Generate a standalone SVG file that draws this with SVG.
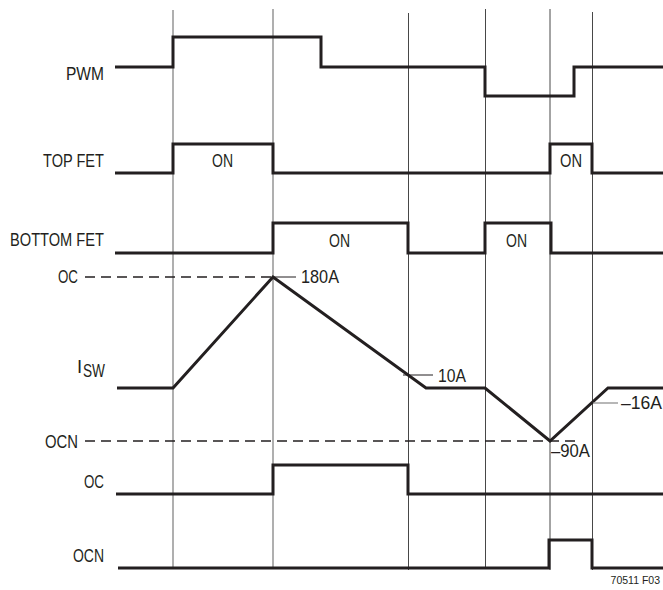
<svg xmlns="http://www.w3.org/2000/svg" width="663" height="590" viewBox="0 0 663 590">
<style>
.grid{stroke:#7a7a7a;stroke-width:1.2;fill:none}
.grid2{stroke:#333;stroke-width:0.9;fill:none}
.sig{stroke:#231f20;stroke-width:3;fill:none;stroke-linejoin:miter;stroke-linecap:butt}
.dash{stroke:#231f20;stroke-width:1.5;fill:none;stroke-dasharray:10 6}
.tick{stroke:#231f20;stroke-width:1;fill:none}
.tickg{stroke:#888;stroke-width:1.2;fill:none}
text{font-family:"Liberation Sans Narrow","Liberation Sans",Arial,sans-serif;font-size:18.5px;fill:#231f20}
.lbl{text-anchor:end}
.small{font-size:10.5px;text-anchor:end}
</style>
<rect width="663" height="590" fill="#fff"/>
<g id="gridlines">
<line class="grid" x1="173" y1="10" x2="173" y2="568"/>
<line class="grid" x1="273" y1="9" x2="273" y2="568"/>
<line class="grid2" x1="408.5" y1="13" x2="408.5" y2="570"/>
<line class="grid2" x1="485.5" y1="9" x2="485.5" y2="568"/>
<line class="grid2" x1="550" y1="9" x2="550" y2="570"/>
<line class="grid2" x1="592.5" y1="12" x2="592.5" y2="570"/>
</g>
<g id="pwm">
<text class="lbl" x="104" y="80" textLength="38" lengthAdjust="spacingAndGlyphs">PWM</text>
<polyline class="sig" points="115,67 173,67 173,37 321,37 321,67 485,67 485,96 574,96 574,67 663,67"/>
</g>
<g id="topfet">
<text class="lbl" x="104" y="167" textLength="61" lengthAdjust="spacingAndGlyphs">TOP FET</text>
<polyline class="sig" points="115,173 173,173 173,144 273,144 273,173 550,173 550,144 592,144 592,173 663,173"/>
<text x="212" y="167" textLength="21" lengthAdjust="spacingAndGlyphs">ON</text>
<text x="560" y="167" textLength="22" lengthAdjust="spacingAndGlyphs">ON</text>
</g>
<g id="bottomfet">
<text class="lbl" x="104" y="246" textLength="94" lengthAdjust="spacingAndGlyphs">BOTTOM FET</text>
<polyline class="sig" points="115,253 273,253 273,223 408,223 408,253 485,253 485,223 551,223 551,253 663,253"/>
<text x="329" y="247" textLength="21" lengthAdjust="spacingAndGlyphs">ON</text>
<text x="506" y="247" textLength="21" lengthAdjust="spacingAndGlyphs">ON</text>
</g>
<g id="isw">
<text class="lbl" x="78" y="283" textLength="20" lengthAdjust="spacingAndGlyphs">OC</text>
<line class="dash" x1="85" y1="277" x2="273" y2="277"/>
<line class="tick" x1="273" y1="277" x2="296" y2="277"/>
<text x="301" y="283" textLength="38" lengthAdjust="spacingAndGlyphs">180A</text>
<text x="77" y="373">I</text>
<text x="83" y="377" font-size="14" textLength="22" lengthAdjust="spacingAndGlyphs">SW</text>
<polyline class="sig" points="117,388 173,388 273,277 426,388 485,388 550,441 608,388 663,388"/>
<line class="tick" x1="403" y1="375" x2="433" y2="375"/>
<text x="438" y="382" textLength="28" lengthAdjust="spacingAndGlyphs">10A</text>
<line class="tickg" x1="593" y1="403" x2="618" y2="403"/>
<text x="621" y="409" textLength="41" lengthAdjust="spacingAndGlyphs">–16A</text>
<text class="lbl" x="78" y="448" textLength="33" lengthAdjust="spacingAndGlyphs">OCN</text>
<line class="dash" x1="85" y1="441" x2="577" y2="441"/>
<text x="551" y="457" textLength="39" lengthAdjust="spacingAndGlyphs">–90A</text>
</g>
<g id="oc">
<text class="lbl" x="104" y="488" textLength="20" lengthAdjust="spacingAndGlyphs">OC</text>
<polyline class="sig" points="116,494 273,494 273,465 408,465 408,494 663,494"/>
</g>
<g id="ocn">
<text class="lbl" x="104" y="562" textLength="31" lengthAdjust="spacingAndGlyphs">OCN</text>
<polyline class="sig" points="118,568 549,568 549,540 592,540 592,568 663,568"/>
</g>
<text class="small" x="660" y="584">70511 F03</text>
</svg>
